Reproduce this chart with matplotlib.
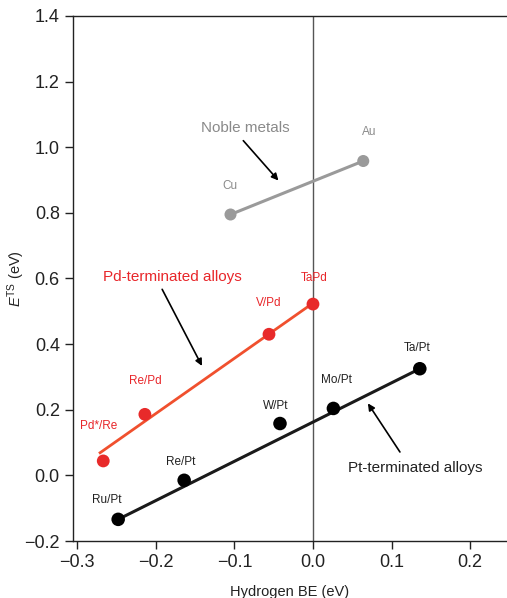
import numpy as np
import matplotlib
matplotlib.use("Agg")
import matplotlib.pyplot as plt

plt.rcParams['font.family'] = ['Liberation Sans', 'DejaVu Sans']
plt.rcParams['mathtext.fontset'] = 'custom'
plt.rcParams['mathtext.rm'] = 'Liberation Sans'
plt.rcParams['mathtext.it'] = 'Liberation Sans:italic'

# Noble metals
noble_names = ['Cu', 'Au']
noble_x = [-0.105, 0.064]
noble_y = [0.795, 0.958]

# Pd-terminated alloys
pd_names = ['Pd*/Re', 'Re/Pd', 'V/Pd', 'TaPd']
pd_x = [-0.267, -0.214, -0.056, 0.000]
pd_y = [0.044, 0.186, 0.430, 0.522]
pd_fit_x = [-0.271, 0.000]
pd_fit_y = [0.069, 0.525]

# Pt-terminated alloys
pt_names = ['Ru/Pt', 'Re/Pt', 'W/Pt', 'Mo/Pt', 'Ta/Pt']
pt_x = [-0.248, -0.164, -0.042, 0.026, 0.136]
pt_y = [-0.134, -0.015, 0.158, 0.204, 0.325]
pt_fit_x = [-0.248, 0.136]
pt_fit_y = [-0.134, 0.325]

# label offsets (data units) relative to each point
noble_off = [(-0.001, 0.088), (0.007, 0.089)]
pd_off = [(-0.0065, 0.107), (0.001, 0.102), (-0.001, 0.096), (0.001, 0.08)]
pt_off = [(-0.0145, 0.058), (-0.004, 0.057), (-0.006, 0.054), (0.004, 0.086), (-0.004, 0.064)]

GREY = '#9a9a9a'
RED_DOT = '#e82a2a'
RED_LINE = '#f0502e'

fig = plt.figure(figsize=(5.07, 5.98), dpi=100)
ax = fig.add_axes([0.144, 0.0953, 0.856, 0.8780])

ax.axvline(0.0, color='#555555', lw=1.0, zorder=1)

ax.plot(noble_x, noble_y, color=GREY, lw=2.2, zorder=2)
ax.scatter(noble_x, noble_y, s=75, color=GREY, zorder=3, edgecolors='none')
for n, x, y, (dx, dy) in zip(noble_names, noble_x, noble_y, noble_off):
    ax.text(x + dx, y + dy, n, color='#8a8a8a', fontsize=8.5, ha='center', va='center')

ax.plot(pd_fit_x, pd_fit_y, color=RED_LINE, lw=2.0, zorder=2)
ax.scatter(pd_x, pd_y, s=85, color=RED_DOT, zorder=3, edgecolors='none')
for n, x, y, (dx, dy) in zip(pd_names, pd_x, pd_y, pd_off):
    ax.text(x + dx, y + dy, n, color='#e8262a', fontsize=8.5, ha='center', va='center')

ax.plot(pt_fit_x, pt_fit_y, color='#1a1a1a', lw=2.2, zorder=2)
ax.scatter(pt_x, pt_y, s=95, color='black', zorder=3, edgecolors='none')
for n, x, y, (dx, dy) in zip(pt_names, pt_x, pt_y, pt_off):
    ax.text(x + dx, y + dy, n, color='#222222', fontsize=8.5, ha='center', va='center')

# group labels
ax.text(-0.0863, 1.0595, 'Noble metals', color='#8a8a8a', fontsize=11,
        ha='center', va='center')
ax.text(-0.1796, 0.6058, 'Pd-terminated alloys', color='#e8262a', fontsize=11,
        ha='center', va='center')
ax.text(0.1307, 0.0213, 'Pt-terminated alloys', color='#222222', fontsize=11,
        ha='center', va='center')

# arrows
arrow_kw = dict(arrowstyle='-|>', color='black', lw=1.2, shrinkA=0, shrinkB=0,
                mutation_scale=10)
ax.annotate('', xy=(-0.044, 0.8985), xytext=(-0.0887, 1.020), arrowprops=arrow_kw)
ax.annotate('', xy=(-0.1413, 0.3335), xytext=(-0.192, 0.567), arrowprops=arrow_kw)
ax.annotate('', xy=(0.0699, 0.2195), xytext=(0.1107, 0.0713), arrowprops=arrow_kw)

ax.set_xlim(-0.3055, 0.247)
ax.set_ylim(-0.2, 1.4)
ax.set_xticks([-0.3, -0.2, -0.1, 0.0, 0.1, 0.2])
ax.set_xticklabels(['\u22120.3', '\u22120.2', '\u22120.1', '0.0', '0.1', '0.2'])
ax.set_yticks(np.arange(-0.2, 1.41, 0.2))
ax.set_yticklabels(['\u22120.2', '0.0', '0.2', '0.4', '0.6', '0.8', '1.0', '1.2', '1.4'])
ax.tick_params(axis='both', direction='out', labelsize=13, colors='#222222',
               length=6, width=1.0)
ax.spines['right'].set_visible(False)
for s in ['left', 'bottom', 'top']:
    ax.spines[s].set_color('#222222')
    ax.spines[s].set_linewidth(1.0)

ax.set_xlabel('Hydrogen BE (eV)', fontsize=10.5, color='#222222')
ax.xaxis.set_label_coords(0.5, -0.083)
ax.set_ylabel(r'$E^{\mathrm{TS}}$ (eV)', fontsize=10.5, color='#222222')
ax.yaxis.set_label_coords(-0.106, 0.50)

fig.savefig('out.png', dpi=100)
